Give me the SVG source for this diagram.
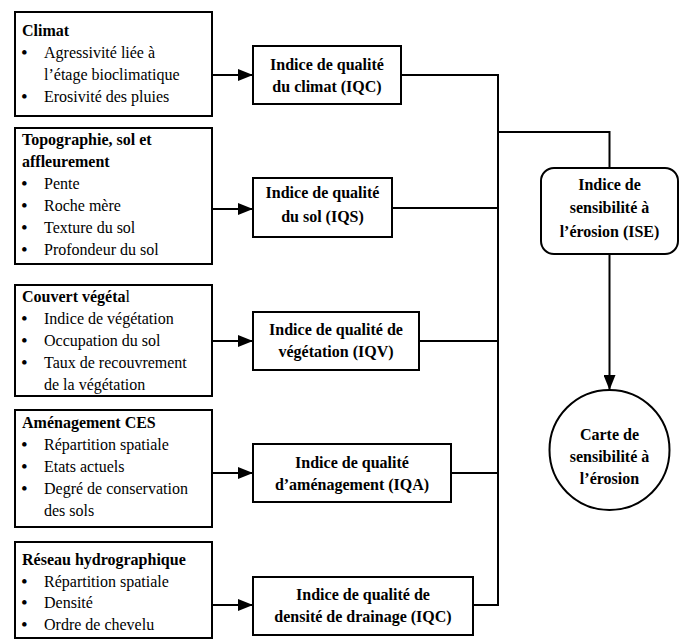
<svg xmlns="http://www.w3.org/2000/svg" width="681" height="641" viewBox="0 0 681 641">
<style>
.box{fill:#fff;stroke:#000;stroke-width:2}
.t{font-family:'Liberation Serif','Times New Roman',serif;font-size:16px;fill:#000}
.b{font-weight:bold}
.c{text-anchor:middle}
.d{font-size:19px}
.ln{fill:none;stroke:#000;stroke-width:2}
</style>
<defs>
<marker id="ah" markerUnits="userSpaceOnUse" markerWidth="16" markerHeight="12" refX="15" refY="6" orient="auto">
<path d="M0,0 L15,6 L0,12 Z" fill="#000"/>
</marker>
</defs>
<rect width="681" height="641" fill="#fff"/>
<g id="climat">
<rect class="box" x="15" y="12" width="197" height="104"/>
<text class="t b" x="22" y="36">Climat</text>
<text class="t d" x="21" y="59">•</text><text class="t" x="44" y="58">Agressivité liée à</text>
<text class="t" x="44" y="80">l’étage bioclimatique</text>
<text class="t d" x="21" y="103">•</text><text class="t" x="44" y="102">Erosivité des pluies</text>
</g>
<g id="topo">
<rect class="box" x="15" y="128" width="197" height="136"/>
<text class="t b" x="22" y="145">Topographie, sol et</text>
<text class="t b" x="22" y="167">affleurement</text>
<text class="t d" x="21" y="190">•</text><text class="t" x="44" y="189">Pente</text>
<text class="t d" x="21" y="212">•</text><text class="t" x="44" y="211">Roche mère</text>
<text class="t d" x="21" y="234">•</text><text class="t" x="44" y="233">Texture du sol</text>
<text class="t d" x="21" y="256">•</text><text class="t" x="44" y="255">Profondeur du sol</text>
</g>
<g id="couvert">
<rect class="box" x="15" y="285" width="197" height="111"/>
<text class="t" x="22" y="302"><tspan class="b">Couvert végéta</tspan>l</text>
<text class="t d" x="21" y="325">•</text><text class="t" x="44" y="324">Indice de végétation</text>
<text class="t d" x="21" y="347">•</text><text class="t" x="44" y="346">Occupation du sol</text>
<text class="t d" x="21" y="369">•</text><text class="t" x="44" y="368">Taux de recouvrement</text>
<text class="t" x="44" y="390">de la végétation</text>
</g>
<g id="amenagement">
<rect class="box" x="15" y="410" width="197" height="117"/>
<text class="t b" x="22" y="428">Aménagement CES</text>
<text class="t d" x="21" y="451">•</text><text class="t" x="44" y="450">Répartition spatiale</text>
<text class="t d" x="21" y="473">•</text><text class="t" x="44" y="472">Etats actuels</text>
<text class="t d" x="21" y="495">•</text><text class="t" x="44" y="494">Degré de conservation</text>
<text class="t" x="44" y="516">des sols</text>
</g>
<g id="reseau">
<rect class="box" x="15" y="542" width="197" height="96"/>
<text class="t b" x="22" y="565">Réseau hydrographique</text>
<text class="t d" x="21" y="588">•</text><text class="t" x="44" y="587">Répartition spatiale</text>
<text class="t d" x="21" y="609">•</text><text class="t" x="44" y="608">Densité</text>
<text class="t d" x="21" y="631">•</text><text class="t" x="44" y="630">Ordre de chevelu</text>
</g>
<g id="iqc">
<rect class="box" x="253" y="46" width="148" height="58"/>
<text class="t b c" x="327" y="70">Indice de qualité</text>
<text class="t b c" x="327" y="92">du climat (IQC)</text>
</g>
<g id="iqs">
<rect class="box" x="253" y="178" width="139" height="59"/>
<text class="t b c" x="322.5" y="198">Indice de qualité</text>
<text class="t b c" x="322.5" y="222">du sol (IQS)</text>
</g>
<g id="iqv">
<rect class="box" x="253" y="312" width="166" height="58"/>
<text class="t b c" x="336" y="335">Indice de qualité de</text>
<text class="t b c" x="336" y="357">végétation (IQV)</text>
</g>
<g id="iqa">
<rect class="box" x="253" y="444" width="198" height="58"/>
<text class="t b c" x="352" y="468">Indice de qualité</text>
<text class="t b c" x="352" y="490">d’aménagement (IQA)</text>
</g>
<g id="iqd">
<rect class="box" x="253" y="577" width="220" height="58"/>
<text class="t b c" x="363" y="600">Indice de qualité de</text>
<text class="t b c" x="363" y="622">densité de drainage (IQC)</text>
</g>
<g id="ise">
<rect class="box" x="541" y="168" width="137" height="86" rx="13" ry="13"/>
<text class="t b c" x="609.5" y="190">Indice de</text>
<text class="t b c" x="609.5" y="213">sensibilité à</text>
<text class="t b c" x="609.5" y="237">l’érosion (ISE)</text>
</g>
<g id="carte">
<circle class="box" cx="609.5" cy="450" r="60"/>
<text class="t b c" x="609.5" y="440">Carte de</text>
<text class="t b c" x="609.5" y="462">sensibilité à</text>
<text class="t b c" x="609.5" y="484">l’érosion</text>
</g>
<g id="connectors">
<line class="ln" x1="212" y1="75" x2="253" y2="75" marker-end="url(#ah)"/>
<line class="ln" x1="212" y1="209" x2="253" y2="209" marker-end="url(#ah)"/>
<line class="ln" x1="212" y1="341" x2="253" y2="341" marker-end="url(#ah)"/>
<line class="ln" x1="212" y1="473" x2="253" y2="473" marker-end="url(#ah)"/>
<line class="ln" x1="212" y1="605" x2="253" y2="605" marker-end="url(#ah)"/>
<polyline class="ln" points="401,75 498,75 498,605 473,605"/>
<line class="ln" x1="392" y1="208" x2="498" y2="208"/>
<line class="ln" x1="419" y1="341" x2="498" y2="341"/>
<line class="ln" x1="451" y1="473" x2="498" y2="473"/>
<polyline class="ln" points="498,132 609.5,132 609.5,168"/>
<line class="ln" x1="609.5" y1="254" x2="609.5" y2="390" marker-end="url(#ah)"/>
</g>
</svg>
